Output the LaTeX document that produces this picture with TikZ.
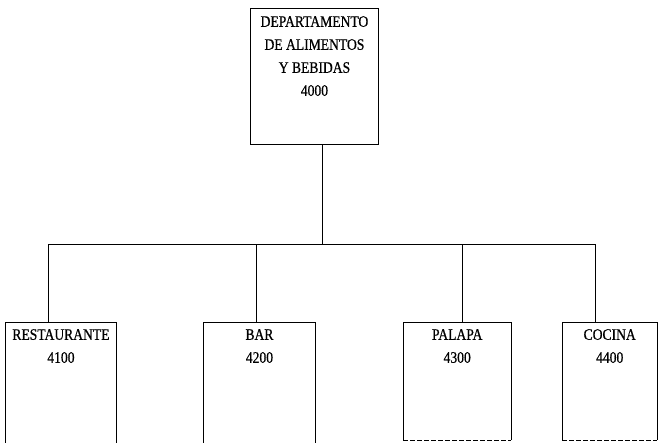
\documentclass[tikz,border=0pt]{standalone}
\usepackage{fontspec}
\setmainfont{Liberation Serif}
\newfontfamily\condfont[FakeStretch=0.85,FakeBold=0.6]{Liberation Serif}
\begin{document}
\begin{tikzpicture}[x=1pt,y=-1pt,
  box/.style={draw=black,line width=0.9pt,minimum width=#1,inner sep=0pt,anchor=north west},
  openbox/.style={inner sep=0pt,anchor=north west,minimum width=#1},
  lbl/.style={anchor=north,align=center,inner sep=0pt,font=\condfont\fontsize{16}{23}\selectfont},
  conn/.style={draw=black,line width=0.9pt}]
\useasboundingbox (0,0) rectangle (658,442);
\clip (0,0) rectangle (658,442);
% top box
\node[box=128pt,minimum height=136pt] (dep) at (250,8) {};
\node[lbl] (deptxt) at ([yshift=-8pt]dep.north) {DEPARTAMENTO\\DE ALIMENTOS\\Y BEBIDAS\\4000};
% bottom boxes
\node[box=111pt,minimum height=140pt] (res) at (5,322) {};
\node[box=112pt,minimum height=140pt] (bar) at (203,322) {};
\node[openbox=108pt,minimum height=118pt] (pal) at (403,322) {};
\node[openbox=95pt,minimum height=118pt] (coc) at (562,322) {};
\draw[conn] (pal.south west) -- (pal.north west) -- (pal.north east) -- (pal.south east);
\draw[conn,dash pattern=on 5pt off 2pt] (pal.south west) -- (pal.south east);
\draw[conn] (coc.south west) -- (coc.north west) -- (coc.north east) -- (coc.south east);
\draw[conn,dash pattern=on 5pt off 2pt] (coc.south west) -- (coc.south east);
\node[lbl] (restxt) at ([yshift=-7pt]res.north) {RESTAURANTE\\4100};
\node[lbl] (bartxt) at ([yshift=-7pt]bar.north) {BAR\\4200};
\node[lbl] (paltxt) at ([yshift=-7pt]pal.north) {PALAPA\\4300};
\node[lbl] (coctxt) at ([yshift=-7pt]coc.north) {COCINA\\4400};
% connectors
\coordinate (hub) at (322,244);
\coordinate (jres) at (48,244);
\coordinate (jbar) at (256,244);
\coordinate (jpal) at (462,244);
\coordinate (jcoc) at (595,244);
\draw[conn] (dep.south -| hub) -- (hub);
\draw[conn] (jres) -- (jcoc);
\draw[conn] (jres) -- (jres |- res.north);
\draw[conn] (jbar) -- (jbar |- bar.north);
\draw[conn] (jpal) -- (jpal |- pal.north);
\draw[conn] (jcoc) -- (jcoc |- coc.north);
\end{tikzpicture}
\end{document}
